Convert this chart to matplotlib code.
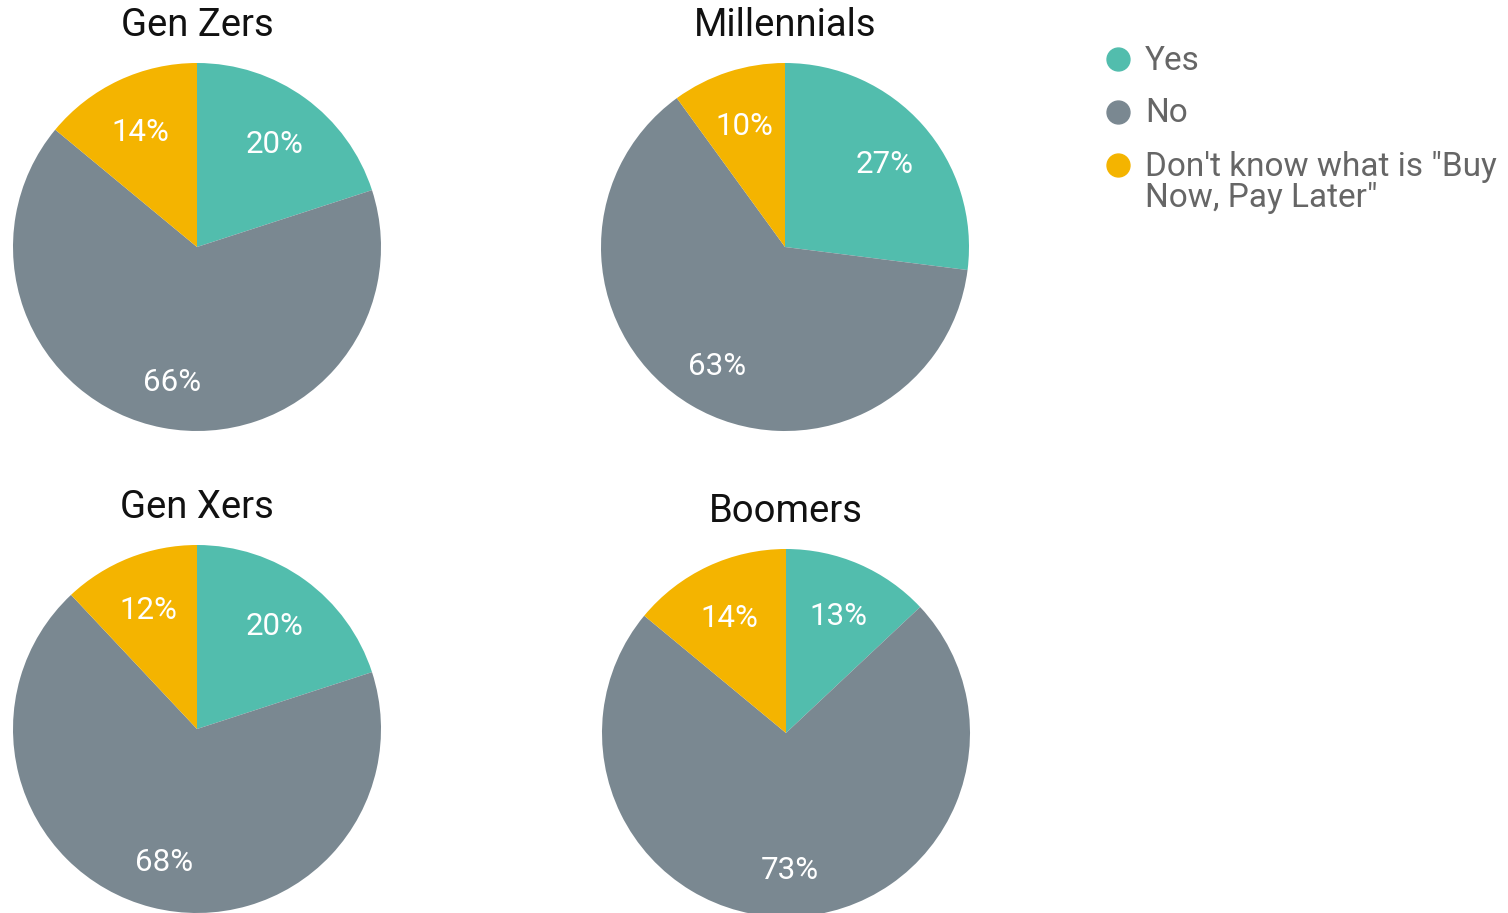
import matplotlib.pyplot as plt
import matplotlib.transforms as mtransforms

plt.rcParams['font.family'] = ['Roboto', 'DejaVu Sans']

# survey answers per generation, in percent
groups = ['Gen Zers', 'Millennials', 'Gen Xers', 'Boomers']
answers = ['Yes', 'No', 'Don\'t know what is "Buy\nNow, Pay Later"']
yes = [20, 27, 20, 13]
no = [66, 63, 68, 73]
dont_know = [14, 10, 12, 14]

colors = ['#52BDAD', '#7A8891', '#F4B400']

W, H = 1508, 913
fig = plt.figure(figsize=(W / 100, H / 100), dpi=100)

# pie centres (px) and radius
centers = [(197, 247), (785, 247), (197, 729), (786, 733)]
title_y = [26, 26, 508, 512]
r = 184

for i, g in enumerate(groups):
    cx, cy = centers[i]
    ax = fig.add_axes([(cx - r) / W, 1 - (cy + r) / H, 2 * r / W, 2 * r / H])
    vals = [yes[i], no[i], dont_know[i]]
    wedges, texts = ax.pie(vals, colors=colors, startangle=90, counterclock=False,
                           radius=1, labels=[f'{v}%' for v in vals],
                           labeldistance=0.72,
                           textprops=dict(color='white', fontsize=22.5, ha='center', va='center'),
                           wedgeprops=dict(linewidth=0))
    # nudge the percentages down a little
    for t in texts:
        t.set_transform(mtransforms.offset_copy(ax.transData, fig=fig, y=-5, units='dots'))
    ax.set_xlim(-1, 1)
    ax.set_ylim(-1, 1)
    ax.set_aspect('equal')
    ax.axis('off')
    fig.text(cx / W, 1 - title_y[i] / H, g, ha='center', va='center',
             fontsize=27.5, color='#111111')

# legend drawn by hand so the marker sits on the first line of a wrapped label
leg = fig.add_axes([0, 0, 1, 1])
leg.set_xlim(0, W)
leg.set_ylim(H, 0)
leg.axis('off')
marker_y = [59, 112, 165]
text_y = [61, 113, 182.5]
for c, lab, my, ty in zip(colors, answers, marker_y, text_y):
    leg.plot([1118], [my], 'o', markersize=16.5, color=c)
    leg.text(1145, ty, lab, ha='left', va='center', fontsize=24,
             color='#666666', linespacing=0.98)

fig.savefig('out.png', dpi=100, facecolor='white')
